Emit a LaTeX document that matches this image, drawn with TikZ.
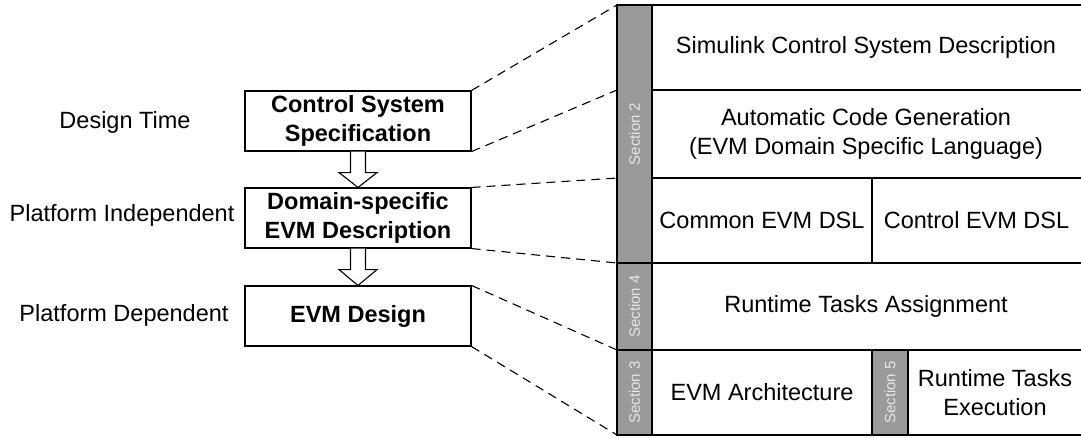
\documentclass[tikz,border=0pt]{standalone}
\usepackage{fontspec}
\setmainfont{Liberation Sans}
\usetikzlibrary{calc}
\definecolor{barGray}{HTML}{9A9A9A}
\definecolor{barText}{HTML}{E6E6E6}
\tikzset{
  every node/.style={font=\fontsize{23.5}{28.5}\selectfont, inner sep=0pt, align=center},
  stagebox/.style={draw=black, line width=1.1pt, minimum width=226pt, minimum height=60pt, font=\fontsize{23.5}{28.5}\selectfont\bfseries},
  phase/.style={anchor=center},
  cell/.style={draw=black, line width=1.4pt, fill=white},
  secbar/.style={draw=black, line width=1.4pt, fill=barGray},
  seclabel/.style={rotate=90, text=barText, font=\fontsize{15}{18}\selectfont},
  zoomline/.style={draw=black, line width=1.1pt, dash pattern=on 9pt off 6pt},
  hollow/.style={draw=black, line width=1.1pt, fill=white, line join=miter}
}
\begin{document}
\begin{tikzpicture}[x=1pt,y=-1pt]
\useasboundingbox (0,0) rectangle (1081,437);
\clip (0,0) rectangle (1081,437);
% left stages
\node[stagebox] (b1) at (358,121) {Control System\\Specification};
\node[stagebox] (b2) at (358,218) {Domain-specific\\EVM Description};
\node[stagebox] (b3) at (358,316) {EVM Design};
\node[phase] (t1) at (125,122) {Design Time};
\node[phase] (t2) at (122,215) {Platform Independent};
\node[phase] (t3) at (124,315) {Platform Dependent};
% hollow arrows
\foreach \a/\b in {b1/b2,b2/b3}{
  \path[hollow] ($(\a.south)+(-7.5,0)$) -- ($(\a.south)+(-7.5,21)$) -- ($(\a.south)+(-19,21)$)
     -- (\b.north) -- ($(\a.south)+(19,21)$) -- ($(\a.south)+(7.5,21)$) -- ($(\a.south)+(7.5,0)$);
}
% right panel cells
\path[cell] (652,5) rectangle (1084,90);
\node (c1) at (866,47.5) {Simulink Control System Description};
\path[cell] (652,90) rectangle (1084,178);
\node (c2) at (866,134) {Automatic Code Generation\\(EVM Domain Specific Language)};
\path[cell] (652,178) rectangle (872,263);
\node (c3) at (762,220.5) {Common EVM DSL};
\path[cell] (872,178) rectangle (1084,263);
\node (c4) at (976.5,220.5) {Control EVM DSL};
\path[cell] (652,263) rectangle (1084,350);
\node (c5) at (866,306.5) {Runtime Tasks Assignment};
\path[cell] (652,350) rectangle (872,435);
\node (c6) at (762,392.5) {EVM Architecture};
\path[cell] (908,350) rectangle (1084,435);
\node (c7) at (995,392.5) {Runtime Tasks\\Execution};
% section bars
\path[secbar] (617,5) rectangle (652,263);
\node[seclabel] (s2) at (634.5,134) {Section 2};
\path[secbar] (617,263) rectangle (652,350);
\node[seclabel] (s4) at (634.5,306.5) {Section 4};
\path[secbar] (617,350) rectangle (652,435);
\node[seclabel] (s3) at (634.5,392.5) {Section 3};
\path[secbar] (872,350) rectangle (908,435);
\node[seclabel] (s5) at (890,392.5) {Section 5};
% zoom coordinates on panel edge
\coordinate (p0) at (617,5);
\coordinate (p1) at (617,90);
\coordinate (p2) at (617,178);
\coordinate (p3) at (617,263);
\coordinate (p4) at (617,350);
\coordinate (p5) at (617,435);
\draw[zoomline] (b1.north east) -- (p0);
\draw[zoomline] (b1.south east) -- (p1);
\draw[zoomline] (b2.north east) -- (p2);
\draw[zoomline] (b2.south east) -- (p3);
\draw[zoomline] (b3.north east) -- (p4);
\draw[zoomline] (b3.south east) -- (p5);
\end{tikzpicture}
\end{document}
